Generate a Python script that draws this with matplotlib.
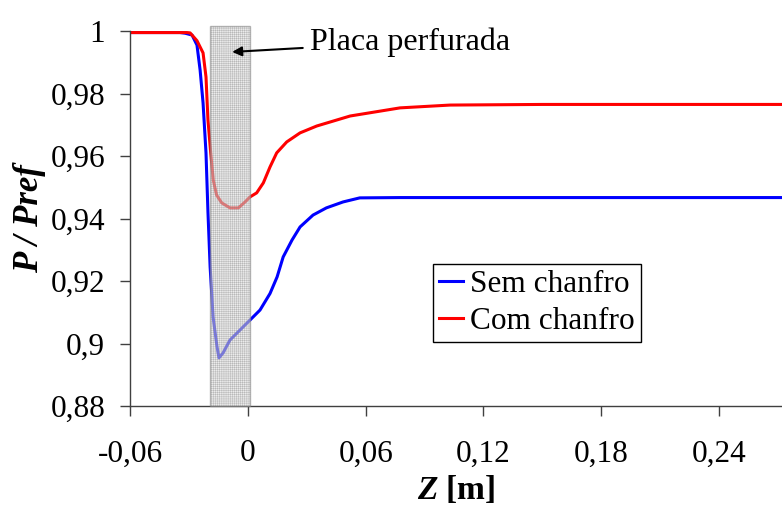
import matplotlib
matplotlib.use("Agg")
import matplotlib.pyplot as plt
from matplotlib.patches import Rectangle

plt.rcParams["font.family"] = ["Liberation Serif", "DejaVu Serif"]
plt.rcParams["mathtext.fontset"] = "custom"
plt.rcParams["mathtext.rm"] = "Liberation Serif"
plt.rcParams["mathtext.bf"] = "Liberation Serif:bold"
plt.rcParams["mathtext.it"] = "Liberation Serif:italic"
plt.rcParams["mathtext.bfit"] = "Liberation Serif:italic:bold"
plt.rcParams["hatch.linewidth"] = 0.3

# --- dados ---
z_sem = [-0.060, -0.040, -0.0345, -0.0320, -0.0284, -0.0259, -0.0243, -0.0228,
         -0.0213, -0.0203, -0.0192, -0.0177, -0.0157, -0.0147, -0.0126, -0.0091,
         -0.0040, 0.0011, 0.0062, 0.0113, 0.0149, 0.0180, 0.0225, 0.0266,
         0.0332, 0.0400, 0.0485, 0.0570, 0.0775, 0.150, 0.272]
p_sem = [0.9995, 0.9995, 0.9995, 0.9993, 0.9987, 0.9955, 0.9875, 0.9770,
         0.9610, 0.9420, 0.9245, 0.9085, 0.8990, 0.8954, 0.8970, 0.9011,
         0.9043, 0.9075, 0.9107, 0.9160, 0.9213, 0.9277, 0.9331, 0.9373,
         0.9411, 0.9434, 0.9453, 0.9466, 0.9467, 0.9467, 0.9467]

z_com = [-0.060, -0.040, -0.0310, -0.0294, -0.0259, -0.0228, -0.0213, -0.0203,
         -0.0189, -0.0176, -0.0159, -0.0133, -0.0091, -0.0048, -0.0014, 0.0011,
         0.0045, 0.0079, 0.0113, 0.0147, 0.0198, 0.0266, 0.0351, 0.0521,
         0.0775, 0.1030, 0.150, 0.272]
p_com = [0.9995, 0.9995, 0.9995, 0.9994, 0.9969, 0.9930, 0.9853, 0.9715,
         0.9610, 0.9523, 0.9475, 0.9450, 0.9434, 0.9434, 0.9453, 0.9469,
         0.9482, 0.9514, 0.9565, 0.9610, 0.9645, 0.9674, 0.9696, 0.9728,
         0.9754, 0.9763, 0.9765, 0.9765]

placa = (-0.0195, 0.0012)   # posição da placa perfurada
xticks = [-0.06, 0, 0.06, 0.12, 0.18, 0.24]
yticks = [0.88, 0.90, 0.92, 0.94, 0.96, 0.98, 1.0]

def virgula(v):
    s = f"{v:.2f}".rstrip("0").rstrip(".")
    return s.replace(".", ",")

fig = plt.figure(figsize=(7.82, 5.07), dpi=100)
ax = fig.add_axes([130 / 782, 1 - 406 / 507, 1 - 130 / 782, (406 - 31) / 507])

ax.plot(z_sem, p_sem, color="#0000ff", lw=2.2, label="Sem chanfro", zorder=2)
ax.plot(z_com, p_com, color="#ff0000", lw=2.2, label="Com chanfro", zorder=2)

band = Rectangle((placa[0], 0.88), placa[1] - placa[0], 0.1215,
                 facecolor="#dcdcdc", edgecolor="#808080", hatch="+" * 8,
                 lw=1.0, alpha=0.55, zorder=3, clip_on=False)
ax.add_patch(band)

ax.set_xlim(-0.06, 0.272)
ax.set_ylim(0.88, 1.0)
ax.set_xticks(xticks)
ax.set_xticklabels([virgula(v) for v in xticks])
ax.set_yticks(yticks)
ax.set_yticklabels([virgula(v) for v in yticks])
ax.tick_params(axis="x", direction="out", length=7, width=1, color="#404040",
               labelsize=22.5, pad=17)
ax.tick_params(axis="y", direction="out", length=7, width=1, color="#404040",
               labelsize=22.5, pad=11)

for s in ("top", "right"):
    ax.spines[s].set_visible(False)
for s in ("left", "bottom"):
    ax.spines[s].set_color("#404040")
    ax.spines[s].set_linewidth(1.0)

ax.set_xlabel(r"$\mathbfit{Z}$ [m]", fontsize=24, fontweight="bold", labelpad=4)
ax.set_ylabel("P / Pref", fontsize=25, fontweight="bold", fontstyle="italic", labelpad=3)

ax.annotate("Placa perfurada", xy=(-0.008, 0.9933), xytext=(0.0315, 0.9965),
            fontsize=23, va="center", ha="left",
            arrowprops=dict(arrowstyle="-|>", color="black", lw=1.5,
                            mutation_scale=14, shrinkA=3, shrinkB=0))

leg = ax.legend(loc="lower left", bbox_to_anchor=(0.4647, 0.1707), fontsize=22.5,
                handlelength=0.75, handletextpad=0.25, borderpad=0.2,
                labelspacing=0.25, borderaxespad=0, fancybox=False,
                framealpha=1, edgecolor="black")
leg.get_frame().set_linewidth(1.0)

fig.savefig("out.png", dpi=100)
